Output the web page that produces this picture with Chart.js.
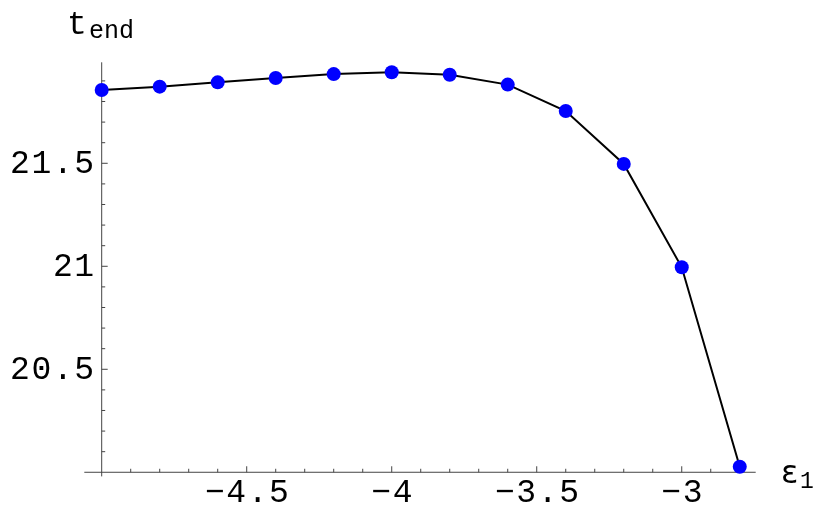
<!DOCTYPE html>
<html>
<head>
<meta charset="utf-8">
<script src="https://cdn.jsdelivr.net/npm/chart.js@4/dist/chart.umd.min.js"></script>
<style>
  html, body { margin: 0; padding: 0; background: #fff; }
  canvas { display: block; }
</style>
</head>
<body>
<canvas id="plot" width="832" height="514"></canvas>
<script>
// données
const epsValues = [-5.0, -4.8, -4.6, -4.4, -4.2, -4.0, -3.8, -3.6, -3.4, -3.2, -3.0, -2.8];
const tEndValues = [21.856, 21.872, 21.893, 21.914, 21.933, 21.942, 21.930, 21.882, 21.754, 21.497, 20.995, 20.027];
const xTickValues = [-4.5, -4, -3.5, -3];
const xTickLabels = ['\u22124.5', '\u22124', '\u22123.5', '\u22123'];
const yTickValues = [20.5, 21, 21.5];
const yTickLabels = ['20.5', '21', '21.5'];

const AXIS_X = -5;   // l'axe vertical passe par x = -5
const AXIS_Y = 20;   // l'axe horizontal passe par y = 20
const TICK_FONT = '33px "Liberation Mono", monospace';

// axes façon Mathematica : traits vers l'intérieur, petites graduations tous les 0.1
const mathAxes = {
    id: 'mathAxes',
    beforeDatasetsDraw(chart) {
        const ctx = chart.ctx;
        const xs = chart.scales.x;
        const ys = chart.scales.y;
        const area = chart.chartArea;
        const x0 = xs.getPixelForValue(AXIS_X);
        const y0 = ys.getPixelForValue(AXIS_Y);

        ctx.save();
        ctx.strokeStyle = '#444';
        ctx.lineWidth = 1;
        ctx.beginPath();
        ctx.moveTo(area.left, y0);
        ctx.lineTo(area.right, y0);
        ctx.moveTo(x0, area.top + 2);
        ctx.lineTo(x0, area.bottom);

        // graduations x
        for (let i = 1; i <= 22; i++) {
            const v = AXIS_X + i * 0.1;
            const major = xTickValues.some(t => Math.abs(t - v) < 1e-6);
            const px = xs.getPixelForValue(v);
            ctx.moveTo(px, y0);
            ctx.lineTo(px, y0 - (major ? 6 : 3.5));
        }
        // graduations y
        for (let i = 1; i <= 19; i++) {
            const v = AXIS_Y + i * 0.1;
            const major = yTickValues.some(t => Math.abs(t - v) < 1e-6);
            const py = ys.getPixelForValue(v);
            ctx.moveTo(x0, py);
            ctx.lineTo(x0 + (major ? 6 : 3.5), py);
        }
        ctx.stroke();

        ctx.fillStyle = '#000';
        ctx.font = TICK_FONT;
        ctx.letterSpacing = '1.6px';
        ctx.textAlign = 'center';
        ctx.textBaseline = 'alphabetic';
        xTickValues.forEach((v, i) => {
            ctx.fillText(xTickLabels[i], xs.getPixelForValue(v) + 1, y0 + 30);
        });
        ctx.textAlign = 'right';
        ctx.textBaseline = 'middle';
        yTickValues.forEach((v, i) => {
            ctx.fillText(yTickLabels[i], x0 - 6, ys.getPixelForValue(v) + 1);
        });

        // titres des axes
        ctx.letterSpacing = '0px';
        ctx.textAlign = 'left';
        ctx.textBaseline = 'alphabetic';
        ctx.font = '33px "Liberation Mono", monospace';
        ctx.fillText('t', 67, 34);
        ctx.font = '25px "Liberation Mono", monospace';
        ctx.fillText('end', 89, 38);

        ctx.font = '32px "DejaVu Sans", sans-serif';
        ctx.fillText('\u03b5', 781, 483);
        ctx.font = '23px "Liberation Mono", monospace';
        ctx.fillText('1', 800, 488);
        ctx.restore();
    }
};

const ctx = document.getElementById('plot').getContext('2d');
const chart = new Chart(ctx, {
    type: 'scatter',
    data: {
        datasets: [{
            data: epsValues.map((x, i) => ({ x: x, y: tEndValues[i] })),
            showLine: true,
            borderColor: '#000',
            borderWidth: 2,
            pointBackgroundColor: '#0000ff',
            pointBorderWidth: 0,
            pointRadius: 7,
            tension: 0,
            clip: false
        }]
    },
    options: {
        responsive: false,
        animation: false,
        devicePixelRatio: 1,
        layout: {
            padding: { left: 84.3, right: 76.3, top: 60.3, bottom: 37.6 }
        },
        plugins: {
            legend: { display: false },
            tooltip: { enabled: false }
        },
        scales: {
            x: { type: 'linear', display: false, min: -5.06, max: -2.745 },
            y: { type: 'linear', display: false, min: 19.98, max: 22.0 }
        }
    },
    plugins: [mathAxes]
});
</script>
</body>
</html>
